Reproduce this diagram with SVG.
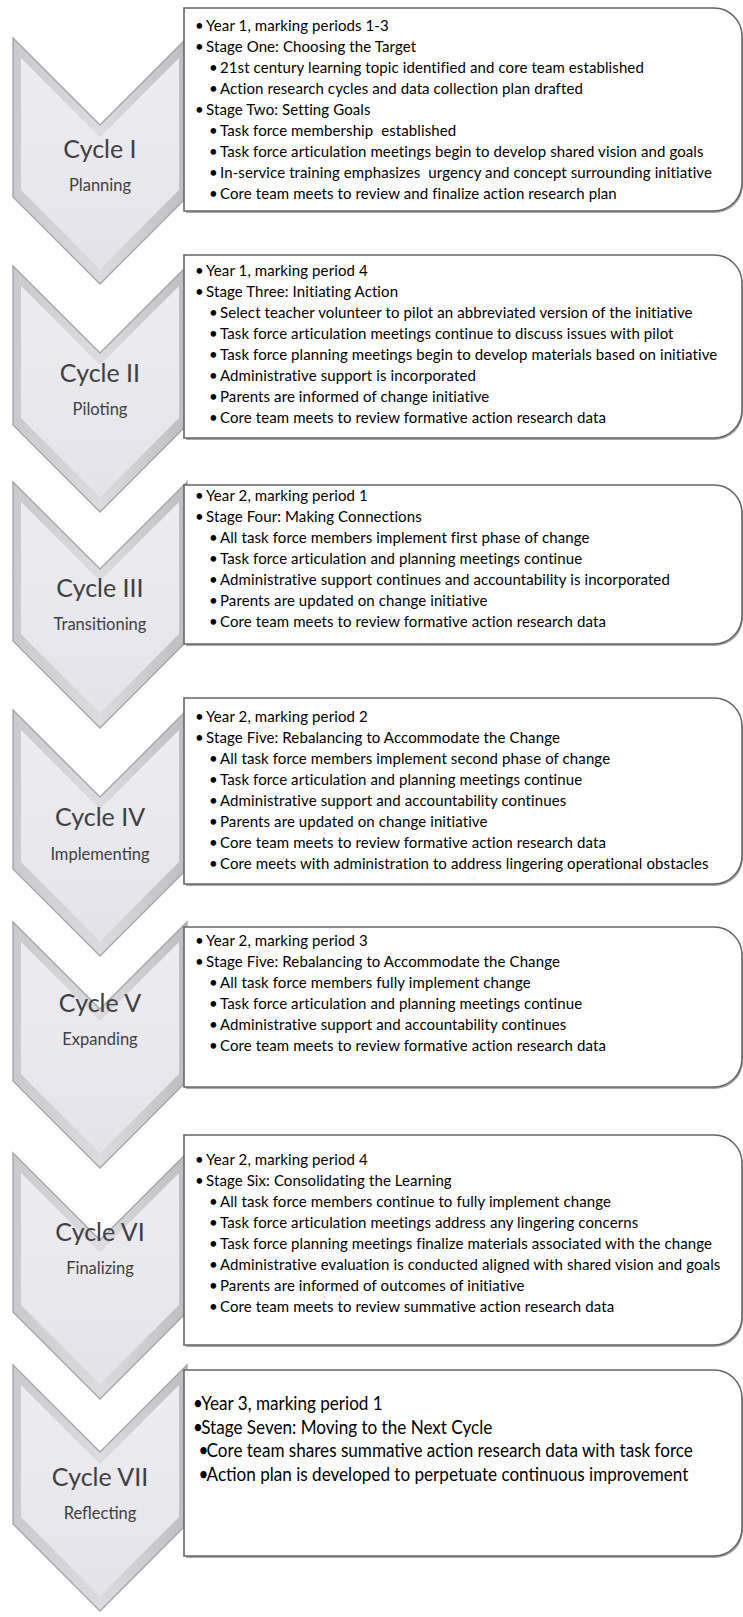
<svg xmlns="http://www.w3.org/2000/svg" width="743" height="1617" viewBox="0 0 743 1617">
<defs>
<linearGradient id="edge" x1="0" y1="0" x2="1" y2="0">
<stop offset="0" stop-color="#cacace"/>
<stop offset="0.5" stop-color="#dcdce0"/>
<stop offset="1" stop-color="#bdbdc2"/>
</linearGradient>
<linearGradient id="face" x1="0" y1="0" x2="0" y2="1">
<stop offset="0" stop-color="#ededf1"/>
<stop offset="1" stop-color="#e3e3e9"/>
</linearGradient>
<style>
.ch-o{fill:url(#edge);stroke:#a6a6aa;stroke-width:1.4}
.ch-i{fill:url(#face)}
.cyc{font-family:Lato,"Open Sans",sans-serif;font-size:25px;fill:#404040;text-anchor:middle}
.lab{font-family:Lato,"Open Sans",sans-serif;font-size:16.5px;fill:#404040;text-anchor:middle}
.box{fill:#ffffff;stroke:#666666;stroke-width:1.6}
.shadow{fill:#a8a8a8}
.t{font-family:Lato,"Open Sans",sans-serif;font-size:15px;letter-spacing:0.1px;fill:#000;white-space:pre}
.t7{font-family:Lato,"Open Sans",sans-serif;font-size:19px;fill:#000;white-space:pre}
</style>
</defs>

<g id="cycle1">
<polygon class="ch-o" points="13,38 100,125 187,38 187,197 100,284 13,197"/>
<polygon class="ch-i" points="21,58 100,137 179,58 179,190 100,269 21,190"/>
<text class="cyc" x="100" y="158">Cycle I</text>
<text class="lab" x="100" y="191">Planning</text>
</g>
<g id="cycle2">
<polygon class="ch-o" points="13,266 100,353 187,266 187,425 100,512 13,425"/>
<polygon class="ch-i" points="21,286 100,365 179,286 179,418 100,497 21,418"/>
<text class="cyc" x="100" y="382">Cycle II</text>
<text class="lab" x="100" y="415">Piloting</text>
</g>
<g id="cycle3">
<polygon class="ch-o" points="13,482 100,569 187,482 187,641 100,728 13,641"/>
<polygon class="ch-i" points="21,502 100,581 179,502 179,634 100,713 21,634"/>
<text class="cyc" x="100" y="597">Cycle III</text>
<text class="lab" x="100" y="630">Transitioning</text>
</g>
<g id="cycle4">
<polygon class="ch-o" points="13,710 100,797 187,710 187,869 100,956 13,869"/>
<polygon class="ch-i" points="21,730 100,809 179,730 179,862 100,941 21,862"/>
<text class="cyc" x="100" y="826">Cycle IV</text>
<text class="lab" x="100" y="860">Implementing</text>
</g>
<g id="cycle5">
<polygon class="ch-o" points="13,922 100,1009 187,922 187,1081 100,1168 13,1081"/>
<polygon class="ch-i" points="21,942 100,1021 179,942 179,1074 100,1153 21,1074"/>
<text class="cyc" x="100" y="1012">Cycle V</text>
<text class="lab" x="100" y="1045">Expanding</text>
</g>
<g id="cycle6">
<polygon class="ch-o" points="13,1153 100,1240 187,1153 187,1312 100,1399 13,1312"/>
<polygon class="ch-i" points="21,1173 100,1252 179,1173 179,1305 100,1384 21,1305"/>
<text class="cyc" x="100" y="1241">Cycle VI</text>
<text class="lab" x="100" y="1274">Finalizing</text>
</g>
<g id="cycle7">
<polygon class="ch-o" points="13,1365 100,1452 187,1365 187,1524 100,1611 13,1524"/>
<polygon class="ch-i" points="21,1385 100,1464 179,1385 179,1517 100,1596 21,1517"/>
<text class="cyc" x="100" y="1486">Cycle VII</text>
<text class="lab" x="100" y="1519">Reflecting</text>
</g>

<g id="box1">
<path class="shadow" d="M186,11 H715 A28,28 0 0 1 743,39 V185 A28,28 0 0 1 715,213 H186 Z"/>
<path class="box" d="M184,8 H714 A28,28 0 0 1 742,36 V183 A28,28 0 0 1 714,211 H184 Z"/>
<text class="t" y="31"><tspan x="195">•</tspan><tspan x="206">Year 1, marking periods 1-3</tspan></text>
<text class="t" y="52"><tspan x="195">•</tspan><tspan x="206">Stage One: Choosing the Target</tspan></text>
<text class="t" y="73"><tspan x="209">•</tspan><tspan x="220">21st century learning topic identified and core team established</tspan></text>
<text class="t" y="94"><tspan x="209">•</tspan><tspan x="220">Action research cycles and data collection plan drafted</tspan></text>
<text class="t" y="115"><tspan x="195">•</tspan><tspan x="206">Stage Two: Setting Goals</tspan></text>
<text class="t" y="136"><tspan x="209">•</tspan><tspan x="220">Task force membership  established</tspan></text>
<text class="t" y="157"><tspan x="209">•</tspan><tspan x="220">Task force articulation meetings begin to develop shared vision and goals</tspan></text>
<text class="t" y="178"><tspan x="209">•</tspan><tspan x="220">In-service training emphasizes  urgency and concept surrounding initiative</tspan></text>
<text class="t" y="199"><tspan x="209">•</tspan><tspan x="220">Core team meets to review and finalize action research plan</tspan></text>
</g>

<g id="box2">
<path class="shadow" d="M186,258 H715 A28,28 0 0 1 743,286 V412 A28,28 0 0 1 715,440 H186 Z"/>
<path class="box" d="M184,255 H714 A28,28 0 0 1 742,283 V410 A28,28 0 0 1 714,438 H184 Z"/>
<text class="t" y="275.5"><tspan x="195">•</tspan><tspan x="206">Year 1, marking period 4</tspan></text>
<text class="t" y="296.5"><tspan x="195">•</tspan><tspan x="206">Stage Three: Initiating Action</tspan></text>
<text class="t" y="317.5"><tspan x="209">•</tspan><tspan x="220">Select teacher volunteer to pilot an abbreviated version of the initiative</tspan></text>
<text class="t" y="338.5"><tspan x="209">•</tspan><tspan x="220">Task force articulation meetings continue to discuss issues with pilot</tspan></text>
<text class="t" y="359.5"><tspan x="209">•</tspan><tspan x="220">Task force planning meetings begin to develop materials based on initiative</tspan></text>
<text class="t" y="380.5"><tspan x="209">•</tspan><tspan x="220">Administrative support is incorporated</tspan></text>
<text class="t" y="401.5"><tspan x="209">•</tspan><tspan x="220">Parents are informed of change initiative</tspan></text>
<text class="t" y="422.5"><tspan x="209">•</tspan><tspan x="220">Core team meets to review formative action research data</tspan></text>
</g>

<g id="box3">
<path class="shadow" d="M186,488 H715 A28,28 0 0 1 743,516 V618 A28,28 0 0 1 715,646 H186 Z"/>
<path class="box" d="M184,485 H714 A28,28 0 0 1 742,513 V616 A28,28 0 0 1 714,644 H184 Z"/>
<text class="t" y="501"><tspan x="195">•</tspan><tspan x="206">Year 2, marking period 1</tspan></text>
<text class="t" y="522"><tspan x="195">•</tspan><tspan x="206">Stage Four: Making Connections</tspan></text>
<text class="t" y="543"><tspan x="209">•</tspan><tspan x="220">All task force members implement first phase of change</tspan></text>
<text class="t" y="564"><tspan x="209">•</tspan><tspan x="220">Task force articulation and planning meetings continue</tspan></text>
<text class="t" y="585"><tspan x="209">•</tspan><tspan x="220">Administrative support continues and accountability is incorporated</tspan></text>
<text class="t" y="606"><tspan x="209">•</tspan><tspan x="220">Parents are updated on change initiative</tspan></text>
<text class="t" y="627"><tspan x="209">•</tspan><tspan x="220">Core team meets to review formative action research data</tspan></text>
</g>

<g id="box4">
<path class="shadow" d="M186,701 H715 A28,28 0 0 1 743,729 V858 A28,28 0 0 1 715,886 H186 Z"/>
<path class="box" d="M184,698 H714 A28,28 0 0 1 742,726 V856 A28,28 0 0 1 714,884 H184 Z"/>
<text class="t" y="721.5"><tspan x="195">•</tspan><tspan x="206">Year 2, marking period 2</tspan></text>
<text class="t" y="742.5"><tspan x="195">•</tspan><tspan x="206">Stage Five: Rebalancing to Accommodate the Change</tspan></text>
<text class="t" y="763.5"><tspan x="209">•</tspan><tspan x="220">All task force members implement second phase of change</tspan></text>
<text class="t" y="784.5"><tspan x="209">•</tspan><tspan x="220">Task force articulation and planning meetings continue</tspan></text>
<text class="t" y="805.5"><tspan x="209">•</tspan><tspan x="220">Administrative support and accountability continues</tspan></text>
<text class="t" y="826.5"><tspan x="209">•</tspan><tspan x="220">Parents are updated on change initiative</tspan></text>
<text class="t" y="847.5"><tspan x="209">•</tspan><tspan x="220">Core team meets to review formative action research data</tspan></text>
<text class="t" y="868.5"><tspan x="209">•</tspan><tspan x="220">Core meets with administration to address lingering operational obstacles</tspan></text>
</g>

<g id="box5">
<path class="shadow" d="M186,930 H715 A28,28 0 0 1 743,958 V1061 A28,28 0 0 1 715,1089 H186 Z"/>
<path class="box" d="M184,927 H714 A28,28 0 0 1 742,955 V1059 A28,28 0 0 1 714,1087 H184 Z"/>
<text class="t" y="946"><tspan x="195">•</tspan><tspan x="206">Year 2, marking period 3</tspan></text>
<text class="t" y="967"><tspan x="195">•</tspan><tspan x="206">Stage Five: Rebalancing to Accommodate the Change</tspan></text>
<text class="t" y="988"><tspan x="209">•</tspan><tspan x="220">All task force members fully implement change</tspan></text>
<text class="t" y="1009"><tspan x="209">•</tspan><tspan x="220">Task force articulation and planning meetings continue</tspan></text>
<text class="t" y="1030"><tspan x="209">•</tspan><tspan x="220">Administrative support and accountability continues</tspan></text>
<text class="t" y="1051"><tspan x="209">•</tspan><tspan x="220">Core team meets to review formative action research data</tspan></text>
</g>

<g id="box6">
<path class="shadow" d="M186,1138 H715 A28,28 0 0 1 743,1166 V1319 A28,28 0 0 1 715,1347 H186 Z"/>
<path class="box" d="M184,1135 H714 A28,28 0 0 1 742,1163 V1317 A28,28 0 0 1 714,1345 H184 Z"/>
<text class="t" y="1164.5"><tspan x="195">•</tspan><tspan x="206">Year 2, marking period 4</tspan></text>
<text class="t" y="1185.5"><tspan x="195">•</tspan><tspan x="206">Stage Six: Consolidating the Learning</tspan></text>
<text class="t" y="1206.5"><tspan x="209">•</tspan><tspan x="220">All task force members continue to fully implement change</tspan></text>
<text class="t" y="1227.5"><tspan x="209">•</tspan><tspan x="220">Task force articulation meetings address any lingering concerns</tspan></text>
<text class="t" y="1248.5"><tspan x="209">•</tspan><tspan x="220">Task force planning meetings finalize materials associated with the change</tspan></text>
<text class="t" y="1269.5"><tspan x="209">•</tspan><tspan x="220">Administrative evaluation is conducted aligned with shared vision and goals</tspan></text>
<text class="t" y="1290.5"><tspan x="209">•</tspan><tspan x="220">Parents are informed of outcomes of initiative</tspan></text>
<text class="t" y="1311.5"><tspan x="209">•</tspan><tspan x="220">Core team meets to review summative action research data</tspan></text>
</g>

<g id="box7">
<path class="shadow" d="M186,1373 H715 A28,28 0 0 1 743,1401 V1530 A28,28 0 0 1 715,1558 H186 Z"/>
<path class="box" d="M184,1370 H714 A28,28 0 0 1 742,1398 V1528 A28,28 0 0 1 714,1556 H184 Z"/>
<g transform="matrix(0.9,0,0,1,19.4,0)">
<text class="t7" y="1410.5"><tspan x="193">•</tspan><tspan x="202">Year 3, marking period 1</tspan></text>
<text class="t7" y="1434"><tspan x="193">•</tspan><tspan x="202">Stage Seven: Moving to the Next Cycle</tspan></text>
<text class="t7" y="1457.5"><tspan x="199">•</tspan><tspan x="208">Core team shares summative action research data with task force</tspan></text>
<text class="t7" y="1481"><tspan x="199">•</tspan><tspan x="208">Action plan is developed to perpetuate continuous improvement</tspan></text>
</g>
</g>
</svg>
